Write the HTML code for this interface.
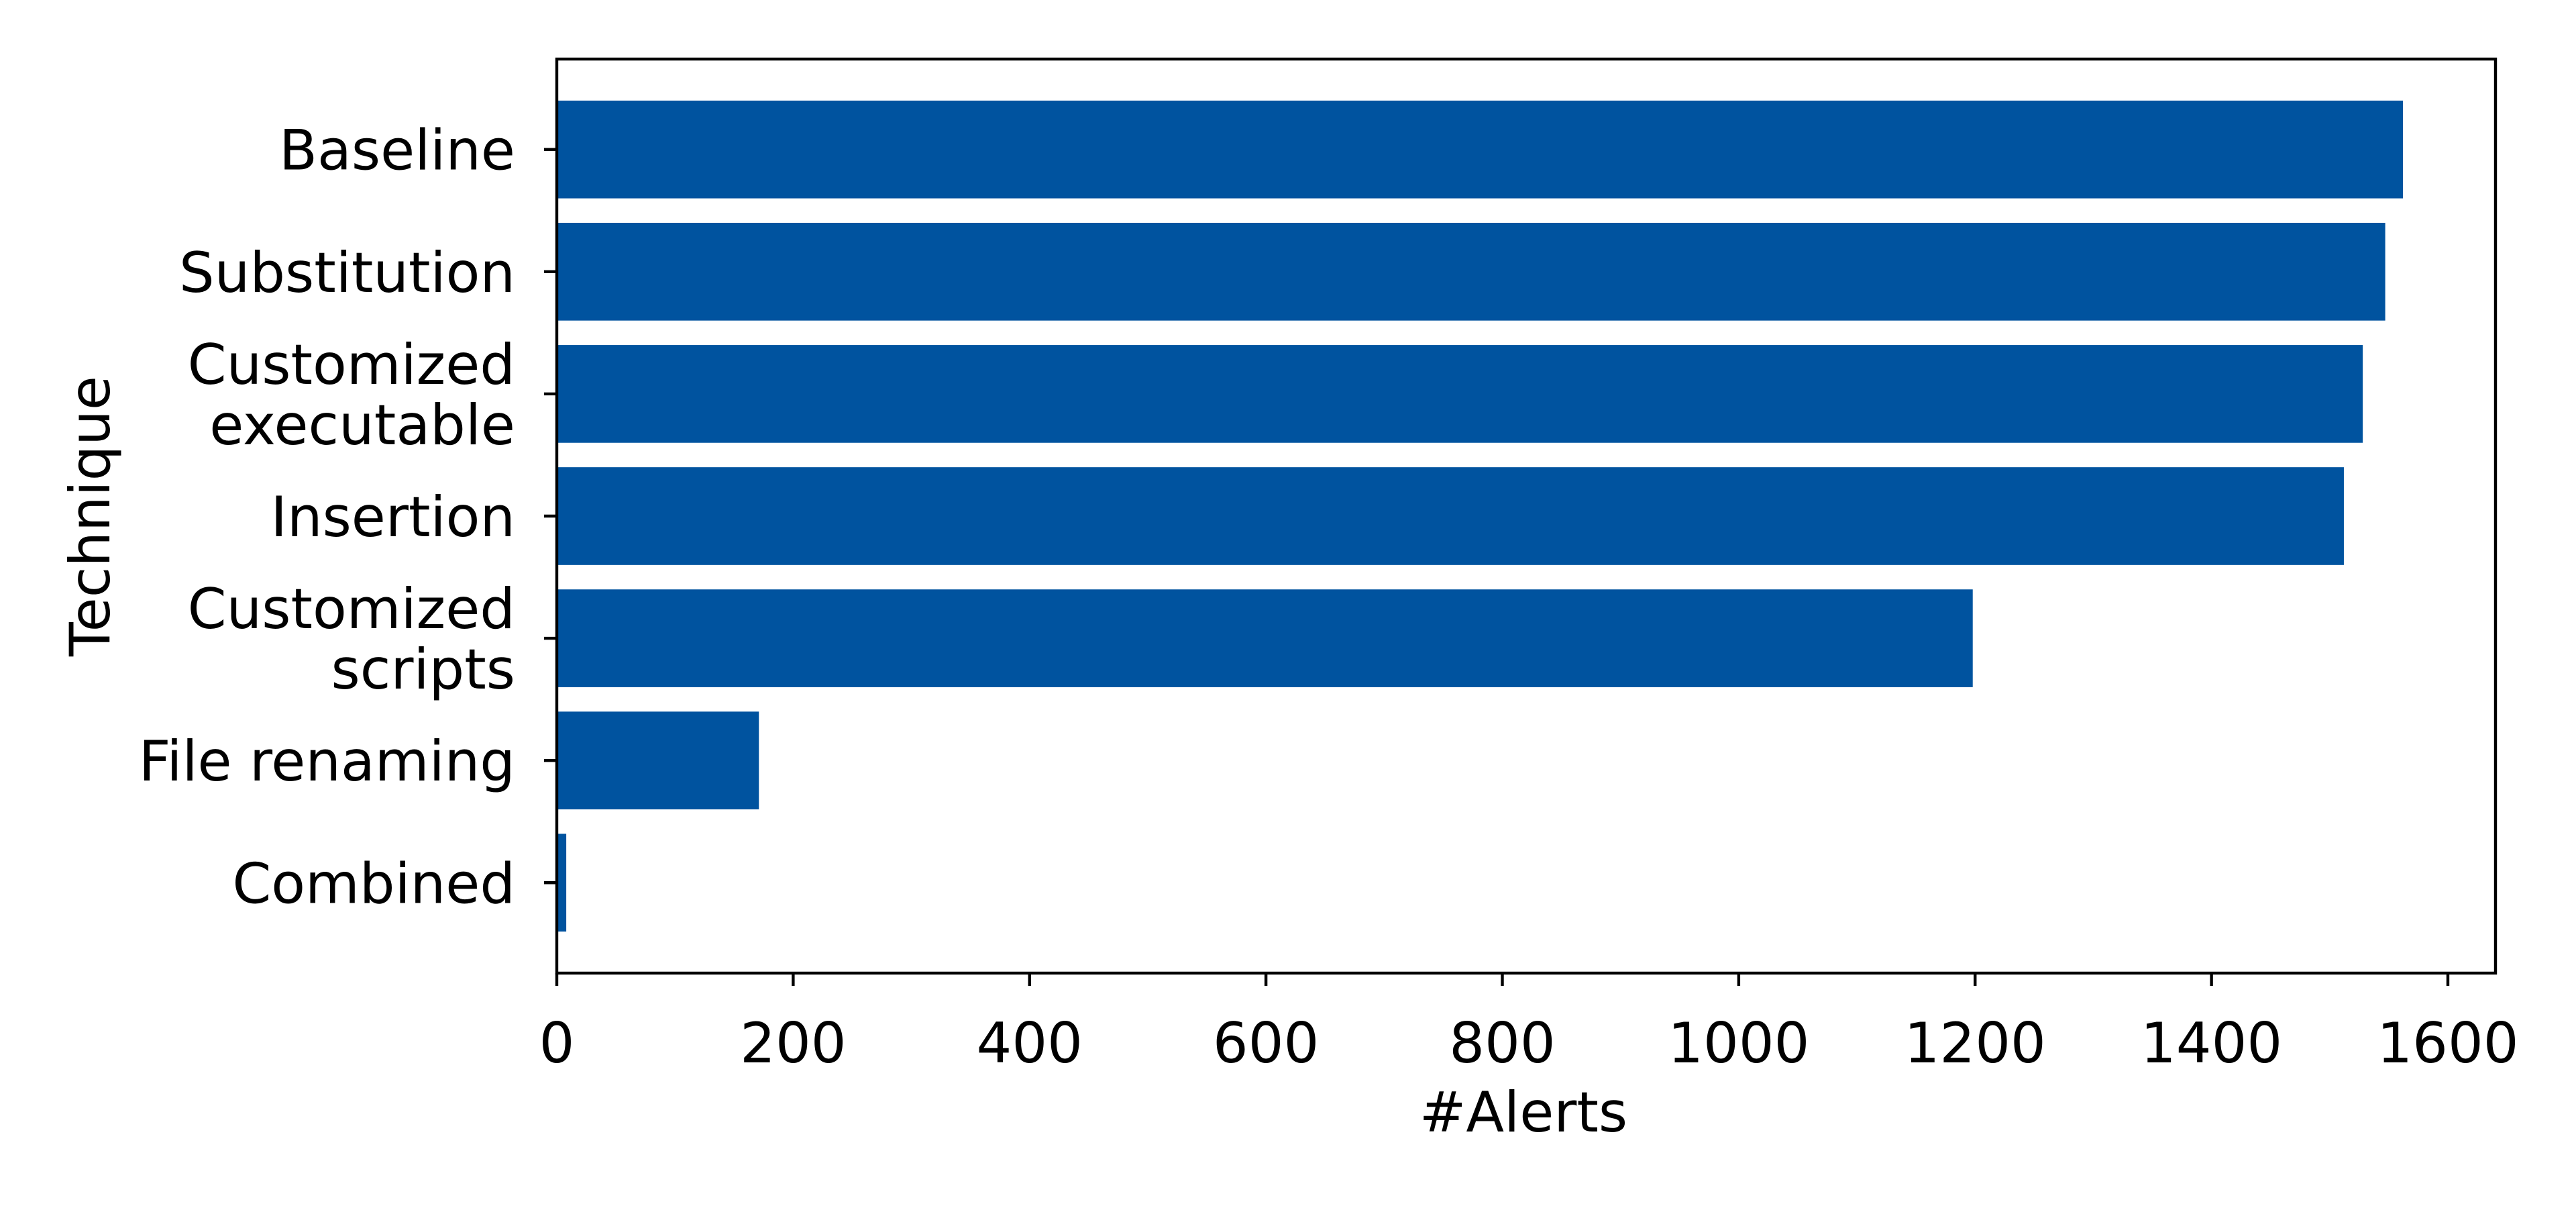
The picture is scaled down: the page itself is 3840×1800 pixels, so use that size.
<!DOCTYPE html>
<html><head><meta charset="utf-8"><style>
html,body{margin:0;padding:0;background:#fff;}
svg{display:block;font-family:"DejaVu Sans","Liberation Sans",sans-serif;}
</style></head><body>
<svg id="chart" width="3840" height="1800" viewBox="0 0 3840 1800" xmlns="http://www.w3.org/2000/svg">
<rect width="3840" height="1800" fill="#fff"/>
<g id="bars"></g>
<g id="axes"></g>
</svg>
<script>
const categories = [["Baseline"],["Substitution"],["Customized","executable"],["Insertion"],["Customized","scripts"],["File renaming"],["Combined"]];
const values = [1562, 1547, 1528, 1512, 1198, 171, 8];
const xTicks = [0, 200, 400, 600, 800, 1000, 1200, 1400, 1600];

const L = 830, R = 3720, T = 88, B = 1450;
const X0 = 830, X1600 = 3649;
const FS = 83;
const xs = v => X0 + (X1600 - X0) * v / 1600;
const n = categories.length;
const yMin = -0.4 - 0.34, yMax = (n - 1) + 0.4 + 0.34;
const ys = i => T + (B - T) * (i - yMin) / (yMax - yMin);
const unit = (B - T) / (yMax - yMin);
const NS = "http://www.w3.org/2000/svg";
const bars = document.getElementById('bars');
const axes = document.getElementById('axes');
function mk(tag, attrs, parent){const e=document.createElementNS(NS,tag);for(const k in attrs)e.setAttribute(k,attrs[k]);parent.appendChild(e);return e;}

values.forEach((v, i) => {
  const r = mk('rect', {x: xs(0), y: ys(i) - 0.4*unit, width: xs(v) - xs(0), height: 0.8*unit, fill: '#00539f'}, bars);
  
  
});

const frame = mk('rect', {x: L, y: T, width: R - L, height: B - T, fill: 'none', stroke: '#000', 'stroke-width': 4.4}, axes);



xTicks.forEach(t => {
  const x = xs(t);
  mk('line', {x1: x, x2: x, y1: B, y2: B + 19, stroke: '#000', 'stroke-width': 4.4}, axes);
  const tx = mk('text', {x: x, y: 1583, 'text-anchor': 'middle', 'font-size': FS, fill: '#000'}, axes);
  tx.textContent = t;
  
  
});

categories.forEach((c, i) => {
  const y = ys(i);
  mk('line', {x1: L, x2: L - 19, y1: y, y2: y, stroke: '#000', 'stroke-width': 4.4}, axes);
  const lh = 90;
  const start = y - (c.length - 1) * lh / 2;
  c.forEach((line, j) => {
    const tx = mk('text', {x: 768, y: start + j*lh + 30, 'text-anchor': 'end', 'font-size': FS, fill: '#000'}, axes);
    tx.textContent = line;
    
    
  });
});

const xl = mk('text', {x: (L + R) / 2 - 4, y: 1686, 'text-anchor': 'middle', 'font-size': FS, fill: '#000'}, axes);
xl.textContent = '#Alerts';



const yl = mk('text', {x: 0, y: 0, 'text-anchor': 'middle', 'font-size': FS, fill: '#000', transform: 'translate(163,769) rotate(-90)'}, axes);
yl.textContent = 'Technique';


</script>
</body></html>
